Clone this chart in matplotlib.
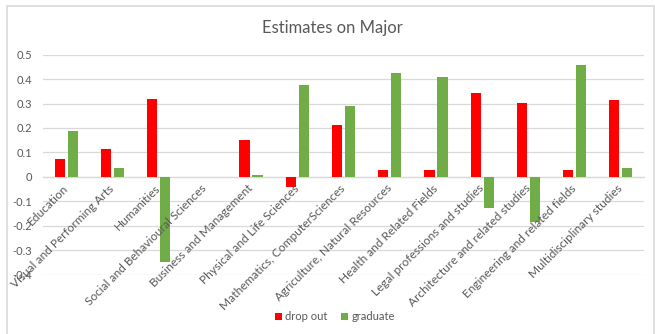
import matplotlib
matplotlib.use("Agg")
import matplotlib.pyplot as plt
from matplotlib.patches import Rectangle
import numpy as np

plt.rcParams['font.family'] = ['Lato', 'DejaVu Sans']

# data
majors = ["Education", "Visual and Performing Arts", "Humanities",
          "Social and Behavioural Sciences", "Business and Management",
          "Physical and Life Sciences", "Mathematics, ComputerSciences",
          "Agriculture, Natural Resources", "Health and Related Fields",
          "Legal professions and studies", "Architecture and related studies",
          "Engineering and related fields", "Multidisciplinary studies"]
drop_out = [0.071, 0.112, 0.317, np.nan, 0.149, -0.042, 0.213,
            0.026, 0.026, 0.343, 0.302, 0.029, 0.313]
graduate = [0.189, 0.036, -0.350, np.nan, 0.007, 0.376, 0.291,
            0.426, 0.408, -0.127, -0.187, 0.458, 0.036]
yticks = [-0.4, -0.3, -0.2, -0.1, 0, 0.1, 0.2, 0.3, 0.4, 0.5]

txt = '#595959'
grid = '#D9D9D9'

fig = plt.figure(figsize=(6.55, 3.34), dpi=100)
W, H = 655, 334
ax = fig.add_axes([43 / W, 1 - 274.5 / H, (644 - 43) / W, (274.5 - 54.7) / H])

# move the category axis to y=0 first (this resets tick properties)
for s in ['top', 'right', 'left']:
    ax.spines[s].set_visible(False)
ax.spines['bottom'].set_position(('data', 0))
ax.spines['bottom'].set_color(grid)
ax.spines['bottom'].set_linewidth(0.9)

x = np.arange(len(majors))
ax.bar(x - 0.14, drop_out, width=0.22, color='#FF0000', label='drop out', zorder=3)
ax.bar(x + 0.14, graduate, width=0.22, color='#70AD47', label='graduate', zorder=3)

ax.set_xlim(-0.5, len(majors) - 0.5)
ax.set_ylim(-0.4, 0.5)
ax.set_yticks(yticks)
ax.set_yticklabels([f"{v:g}" for v in yticks], color=txt, fontsize=8)
ax.yaxis.grid(True, color=grid, lw=0.9, zorder=0)

ax.tick_params(axis='both', length=0)
ax.tick_params(axis='x', pad=7)
ax.tick_params(axis='y', pad=8)
ax.set_xticks(x)
ax.set_xticklabels(majors, rotation=45, ha='right', va='center',
                   rotation_mode='anchor', color=txt, fontsize=8.6)
# category labels sit on top of the bars, like in Excel
ax.xaxis.set_zorder(4)

fig.text(332 / W, 1 - 28 / H, "Estimates on Major", ha='center', va='center',
         fontsize=12, color=txt)

fig.legend(loc='center', bbox_to_anchor=(335 / W, 1 - 317 / H), ncol=2,
           frameon=False, fontsize=8, handlelength=0.6, handleheight=0.6,
           handletextpad=0.3, columnspacing=1.2, labelcolor=txt)

# chart border (open at the bottom, as in the reference)
fig.patches.append(Rectangle((6.5 / W, -0.1), (653.5 - 6.5) / W, 1.1 - 6.5 / H,
                             transform=fig.transFigure, fill=False,
                             edgecolor=grid, lw=1.2))

fig.savefig('out.png', dpi=100)
